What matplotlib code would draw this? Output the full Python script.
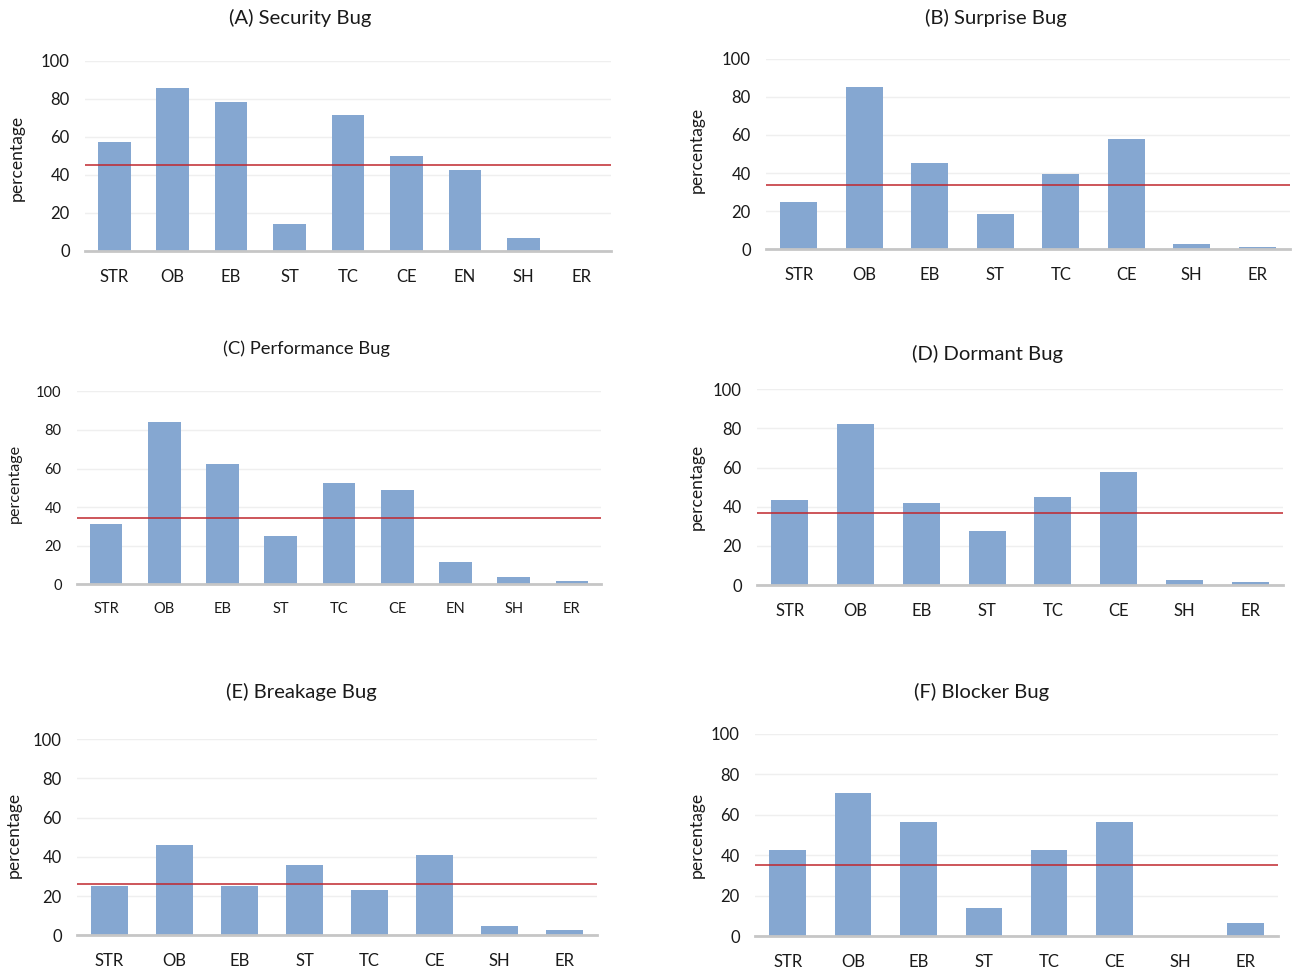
import matplotlib
matplotlib.use("Agg")
import matplotlib.pyplot as plt

plt.rcParams['font.family'] = ['Lato', 'DejaVu Sans']

cats9 = ["STR", "OB", "EB", "ST", "TC", "CE", "EN", "SH", "ER"]
cats8 = ["STR", "OB", "EB", "ST", "TC", "CE", "SH", "ER"]

security = [57.0, 85.4, 78.4, 13.9, 71.2, 49.8, 42.6, 6.8, 0.0]
security_avg = 45.1
surprise = [24.8, 85.0, 45.1, 18.4, 39.7, 57.7, 2.6, 1.2]
surprise_avg = 33.9
performance = [31.3, 84.1, 62.5, 25.2, 52.7, 48.7, 11.6, 3.6, 1.7]
performance_avg = 34.5
dormant = [43.3, 82.3, 41.7, 27.4, 44.8, 57.8, 2.7, 1.4]
dormant_avg = 36.8
breakage = [25.3, 46.0, 25.3, 35.8, 22.9, 40.9, 4.9, 2.5]
breakage_avg = 26.0
blocker = [42.5, 71.0, 56.7, 14.0, 42.5, 56.7, 0.0, 6.8]
blocker_avg = 35.4

yticks = [0, 20, 40, 60, 80, 100]

W, H = 1294, 969
fig = plt.figure(figsize=(W / 100, H / 100), dpi=100)

BAR = "#85A7D1"
RED = "#C0272D"

panels = [
    # title, cats, vals, avg, (left, right, top, bottom), title pos, ylabel pos, tick fs, title fs, ylabel fs
    ("(A) Security Bug", cats9, security, security_avg, (85, 611, 60.7, 250.7), (300, 18), (17, 158), 12, 14.6, 12.6),
    ("(B) Surprise Bug", cats8, surprise, surprise_avg, (766, 1290, 58.7, 249.3), (996, 18), (697, 150), 12, 14.6, 12.6),
    ("(C) Performance Bug", cats9, performance, performance_avg, (77, 601, 391.3, 584.3), (306, 349), (15, 483), 10.5, 13.2, 11.6),
    ("(D) Dormant Bug", cats8, dormant, dormant_avg, (757, 1283, 389.3, 585.0), (988, 354), (697, 487), 12, 14.6, 12.6),
    ("(E) Breakage Bug", cats8, breakage, breakage_avg, (77, 597, 739.0, 935.3), (301, 692), (14, 835), 12, 14.6, 12.6),
    ("(F) Blocker Bug", cats8, blocker, blocker_avg, (755, 1278, 734.0, 936.3), (982, 692), (697, 835), 12, 14.6, 12.6),
]

for title, cats, vals, avg, (l, r, t, b), (tx, ty), (lx, ly), tfs, hfs, lfs in panels:
    ax = fig.add_axes([l / W, 1 - b / H, (r - l) / W, (b - t) / H])
    x = list(range(len(cats)))
    ax.bar(x, vals, width=0.56, color=BAR, zorder=2)
    ax.axhline(avg, color=RED, lw=1.1, zorder=3)
    ax.set_xlim(-0.5, len(cats) - 0.5)
    ax.set_ylim(0, 100)
    ax.set_yticks(yticks)
    ax.set_xticks(x)
    ax.set_xticklabels(cats)
    ax.tick_params(axis='both', length=0, labelsize=tfs, colors="#1a1a1a")
    ax.tick_params(axis='x', pad=13)
    ax.tick_params(axis='y', pad=11)
    ax.grid(axis='y', color="#EFEFEF", lw=1.0, zorder=0)
    ax.set_axisbelow(True)
    for s in ["top", "right", "left"]:
        ax.spines[s].set_visible(False)
    ax.spines["bottom"].set_color("#C6C6C6")
    ax.spines["bottom"].set_linewidth(2.0)
    ax.spines["bottom"].set_zorder(4)
    fig.text(tx / W, 1 - ty / H, title, ha="center", va="center", fontsize=hfs, color="#1a1a1a")
    fig.text(lx / W, 1 - ly / H, "percentage", ha="center", va="center", rotation=90,
             fontsize=lfs, color="#1a1a1a")

fig.savefig("out.png", dpi=100, facecolor="white")
